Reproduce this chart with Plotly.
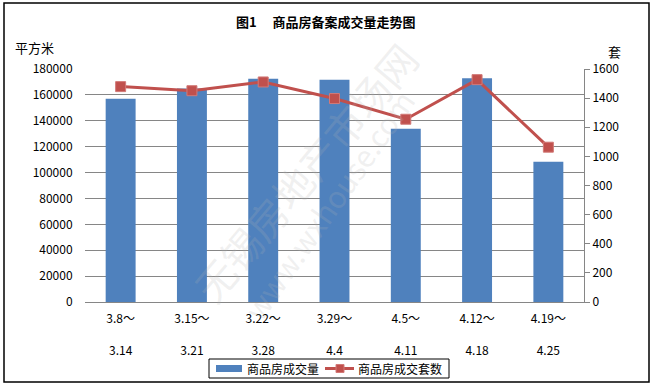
import plotly.graph_objects as go

categories = ["3.8～<br><br>3.14", "3.15～<br><br>3.21", "3.22～<br><br>3.28", "3.29～<br><br>4.4",
              "4.5～<br><br>4.11", "4.12～<br><br>4.18", "4.19～<br><br>4.25"]
area_values = [157000, 165000, 172500, 171700, 133900, 172800, 108400]
unit_values = [1479, 1451, 1511, 1397, 1255, 1527, 1063]
left_ticks = list(range(0, 180001, 20000))
right_ticks = list(range(0, 1601, 200))
series_names = ["商品房成交量", "商品房成交套数"]

FONT = "Noto Sans CJK SC"
BLUE = "#4F81BD"
RED = "#C0504D"

# plot area in pixels
L, R, T, B = 85, 584, 69, 302


def px(x):
    return (x - L) / (R - L)


def py(y):
    return (B - y) / (B - T)


fig = go.Figure()
fig.add_trace(go.Bar(x=categories, y=area_values, name=series_names[0],
                     marker=dict(color=BLUE, line=dict(width=0)), yaxis="y"))
fig.add_trace(go.Scatter(x=categories, y=unit_values, name=series_names[1], yaxis="y2",
                         mode="lines+markers",
                         line=dict(color=RED, width=3),
                         marker=dict(symbol="square", size=10, color=RED,
                                     line=dict(color="#D27A78", width=1))))

fig.update_layout(
    width=652, height=386,
    margin=dict(l=L, r=652 - R, t=T, b=386 - B, autoexpand=False),
    paper_bgcolor="white", plot_bgcolor="white",
    font=dict(family=FONT, size=12, color="black"),
    bargap=0.58,
    showlegend=False,
    xaxis=dict(showgrid=False, showline=True, linecolor="#868686", linewidth=1,
               ticks="outside", ticklen=0, ticklabelstandoff=6, tickfont=dict(size=12),
               zeroline=False, automargin=False),
    yaxis=dict(range=[0, 180000], tickvals=left_ticks, ticktext=[str(v) for v in left_ticks],
               showgrid=True, gridcolor="#868686", gridwidth=1, showline=False,
               ticks="outside", ticklen=0, ticklabelstandoff=9, zeroline=False,
               tickfont=dict(size=12), automargin=False),
    yaxis2=dict(range=[0, 1600], tickvals=right_ticks, ticktext=[str(v) for v in right_ticks],
                overlaying="y", side="right", showgrid=False, showline=True,
                linecolor="#868686", linewidth=1, ticks="outside", ticklen=5,
                tickcolor="#868686", zeroline=False, tickfont=dict(size=12),
                automargin=False),
)

fig.add_annotation(text="<b>图1　 商品房备案成交量走势图</b>", xref="paper", yref="paper",
                   x=px(326), y=py(22), showarrow=False,
                   font=dict(size=13, family=FONT), xanchor="center", yanchor="middle")
fig.add_annotation(text="平方米", xref="paper", yref="paper", x=px(13),
                   y=py(48), showarrow=False, xanchor="left", yanchor="middle",
                   font=dict(size=13))
fig.add_annotation(text="套", xref="paper", yref="paper", x=px(614),
                   y=py(51), showarrow=False, xanchor="center", yanchor="middle",
                   font=dict(size=13))
# watermark
fig.add_annotation(text="无锡房地产市场网", xref="paper", yref="paper",
                   x=px(305), y=py(172), showarrow=False,
                   textangle=-50, font=dict(size=40, color="rgba(180,180,180,0.2)"))
fig.add_annotation(text="www.wxhouse.com", xref="paper", yref="paper",
                   x=px(328), y=py(205), showarrow=False,
                   textangle=-55, font=dict(size=30, color="rgba(180,180,180,0.2)"))

# manual legend
fig.add_shape(type="rect", xref="paper", yref="paper", x0=px(209), x1=px(449),
              y0=py(378), y1=py(359), line=dict(color="black", width=1),
              fillcolor="white")
fig.add_shape(type="rect", xref="paper", yref="paper", x0=px(216), x1=px(242),
              y0=py(372), y1=py(365), line=dict(width=0), fillcolor=BLUE)
fig.add_annotation(text=series_names[0], xref="paper", yref="paper", x=px(245), y=py(368.5),
                   showarrow=False, xanchor="left", yanchor="middle", font=dict(size=12))
fig.add_shape(type="line", xref="paper", yref="paper", x0=px(325), x1=px(354),
              y0=py(368.5), y1=py(368.5), line=dict(color=RED, width=3))
fig.add_shape(type="rect", xref="paper", yref="paper", x0=px(336), x1=px(344),
              y0=py(372.5), y1=py(364.5), line=dict(color="#D27A78", width=1), fillcolor=RED)
fig.add_annotation(text=series_names[1], xref="paper", yref="paper", x=px(356), y=py(368.5),
                   showarrow=False, xanchor="left", yanchor="middle", font=dict(size=12))

# outer border
fig.add_shape(type="rect", xref="paper", yref="paper",
              x0=px(4), x1=px(649), y0=py(382), y1=py(3),
              line=dict(color="black", width=1.5), fillcolor="rgba(0,0,0,0)")

fig.write_html("out.html", config={"displayModeBar": False},
               post_script="document.body.style.margin='0';document.body.style.overflow='hidden';")
